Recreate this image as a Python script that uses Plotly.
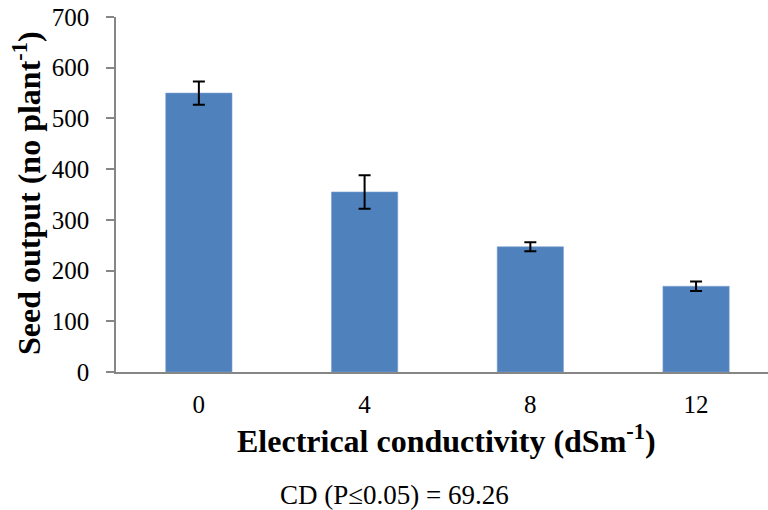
import plotly.graph_objects as go

categories = ["0", "4", "8", "12"]
seed_output = [550, 355, 247, 169]
error_vals = [23, 33, 9, 9.5]

W, H = 768, 510
L, T, B = 116, 17, 138
plot_w = W - L
plot_h = H - T - B

fig = go.Figure()
fig.add_trace(go.Bar(
    x=categories, y=seed_output,
    width=0.4,
    marker=dict(color="#4F81BD", line=dict(color="#7FA3D0", width=0.6)),
    error_y=dict(type="data", array=error_vals, visible=True,
                 color="black", thickness=2, width=6),
    showlegend=False,
))

font_family = "Liberation Serif"
tick_font = dict(family=font_family, size=25, color="black")

def px_x(p):
    return (p - L) / plot_w

def px_y(p):
    return (H - B - p) / plot_h

fig.update_layout(
    width=W, height=H,
    margin=dict(l=L, r=0, t=T, b=B),
    paper_bgcolor="white", plot_bgcolor="white",
    font=dict(family=font_family, color="black", size=25),
    xaxis=dict(
        type="category", range=[-0.5, 3.434],
        showline=True, linecolor="#868686", linewidth=1.5,
        showgrid=False, ticks="", tickfont=tick_font,
        zeroline=False, ticklabelstandoff=9,
    ),
    yaxis=dict(
        range=[0, 700], dtick=100,
        showline=True, linecolor="#868686", linewidth=1.5,
        ticks="outside", ticklen=8, tickcolor="#868686", tickwidth=1.5,
        showgrid=False, zeroline=False, tickfont=tick_font,
        ticklabelstandoff=12,
    ),
    annotations=[
        dict(text="<b>Electrical conductivity (dSm<sup>-1</sup>)</b>",
             xref="paper", yref="paper", x=px_x(447), y=px_y(439),
             xanchor="center", yanchor="middle", showarrow=False,
             font=dict(size=32, family=font_family, color="black")),
        dict(text="<b>Seed output (no plant<sup>-1</sup>)</b>",
             xref="paper", yref="paper", x=px_x(27), y=px_y(193),
             xanchor="center", yanchor="middle", showarrow=False,
             textangle=-90,
             font=dict(size=32, family=font_family, color="black")),
        dict(text="CD (P≤0.05) = 69.26",
             xref="paper", yref="paper", x=px_x(394), y=px_y(495),
             xanchor="center", yanchor="middle", showarrow=False,
             font=dict(size=27, family=font_family, color="black")),
    ],
)

fig.write_html("out.html")
